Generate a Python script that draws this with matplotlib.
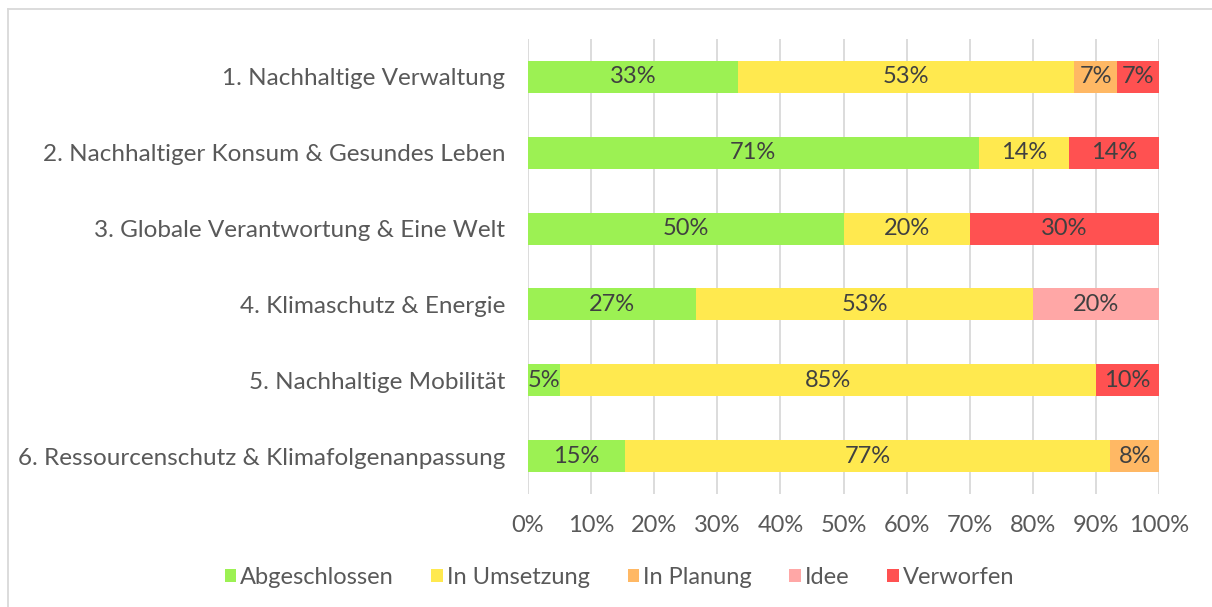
import matplotlib.pyplot as plt
from matplotlib.patches import Patch
from matplotlib.lines import Line2D
from matplotlib.ticker import PercentFormatter

# Daten (Anteile in Prozent)
kategorien = [
    "1. Nachhaltige Verwaltung",
    "2. Nachhaltiger Konsum & Gesundes Leben",
    "3. Globale Verantwortung & Eine Welt",
    "4. Klimaschutz & Energie",
    "5. Nachhaltige Mobilität",
    "6. Ressourcenschutz & Klimafolgenanpassung",
]
status = ["Abgeschlossen", "In Umsetzung", "In Planung", "Idee", "Verworfen"]
abgeschlossen = [33.3, 71.4, 50.0, 26.7, 5.0, 15.4]
in_umsetzung = [53.3, 14.3, 20.0, 53.3, 85.0, 76.9]
in_planung = [6.7, 0, 0, 0, 0, 7.7]
idee = [0, 0, 0, 20.0, 0, 0]
verworfen = [6.7, 14.3, 30.0, 0, 10.0, 0]

farben = ["#9CF153", "#FFE94F", "#FFB864", "#FFA7A6", "#FF5151"]

plt.rcParams['font.family'] = ['Lato', 'DejaVu Sans']

fig = plt.figure(figsize=(12.12, 6.07), dpi=100)
ax = fig.add_axes([528 / 1212, 1 - 494 / 607, 631 / 1212, 455 / 607])

reihen = [abgeschlossen, in_umsetzung, in_planung, idee, verworfen]
y = list(range(len(kategorien)))
links = [0] * len(kategorien)
for werte, farbe, name in zip(reihen, farben, status):
    bars = ax.barh(y, werte, left=links, height=0.42, color=farbe, label=name, zorder=2)
    for b, v in zip(bars, werte):
        if v > 0:
            ax.text(b.get_x() + b.get_width() / 2, b.get_y() + b.get_height() / 2,
                    f"{v:.0f}%", ha='center', va='center', fontsize=17, color='#404040', zorder=3)
    links = [l + v for l, v in zip(links, werte)]

ax.set_xlim(0, 100)
ax.set_ylim(len(kategorien) - 0.5, -0.5)
ax.set_xticks(range(0, 101, 10))
ax.xaxis.set_major_formatter(PercentFormatter(decimals=0))
ax.set_yticks(y)
ax.set_yticklabels(kategorien)
ax.tick_params(axis='both', length=0, labelsize=17, labelcolor='#595959')
ax.tick_params(axis='y', labelsize=17.5, pad=16.5)
ax.tick_params(axis='x', pad=15)
ax.grid(axis='x', color='#D9D9D9', linewidth=1.3, zorder=0)
for s in ax.spines.values():
    s.set_visible(False)

# Legende unten
handles = [Patch(facecolor=f, edgecolor='none') for f in farben]
fig.legend(handles, status, loc='center', bbox_to_anchor=(0.511, 0.049), ncol=5,
           frameon=False, fontsize=17, labelcolor='#595959',
           handlelength=0.5, handleheight=0.5, handletextpad=0.15, columnspacing=1.6)

# Rahmen (links und oben sichtbar)
fig.add_artist(Line2D([8 / 1212, 8 / 1212], [0, 1 - 9 / 607], transform=fig.transFigure,
                      color='#D9D9D9', linewidth=1.3))
fig.add_artist(Line2D([8 / 1212, 1], [1 - 9 / 607, 1 - 9 / 607], transform=fig.transFigure,
                      color='#D9D9D9', linewidth=1.3))

fig.savefig("out.png", dpi=100)
